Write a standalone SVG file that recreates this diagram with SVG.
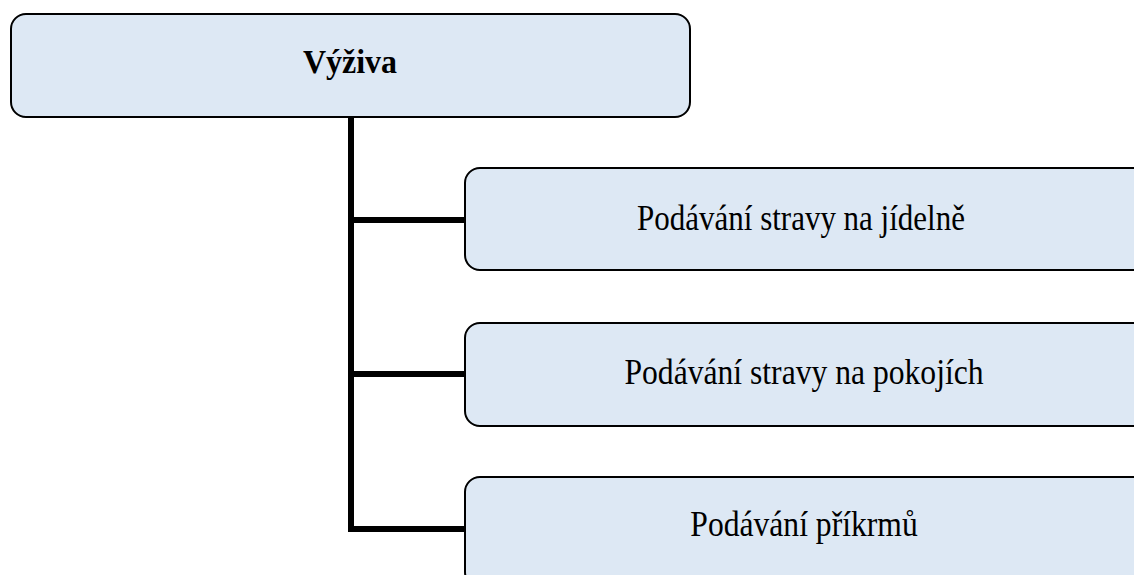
<svg xmlns="http://www.w3.org/2000/svg" width="1134" height="575" viewBox="0 0 1134 575">
<style>
.box{fill:#dde8f4;stroke:#000;stroke-width:2}
.t{font-family:"Liberation Serif","Times New Roman",serif;font-size:31px;fill:#000;text-anchor:middle}
.b{font-weight:bold;font-size:32px}
.c{fill:none;stroke:#000;stroke-width:6;stroke-linejoin:miter}
</style>
<g id="connectors">
<path class="c" d="M351,117 V529 H465"/>
<path class="c" d="M351,220 H465"/>
<path class="c" d="M351,374 H465"/>
</g>
<g id="node-vyziva">
<rect class="box" x="11" y="14" width="679" height="103" rx="15"/>
<text class="t b" transform="translate(350,73) scale(1,1.05)">Výživa</text>
</g>
<g id="node-jidelna">
<rect class="box" x="465" y="168" width="690" height="102" rx="15"/>
<text class="t" transform="translate(801,230) scale(1,1.17)">Podávání stravy na jídelně</text>
</g>
<g id="node-pokoje">
<rect class="box" x="465" y="323" width="690" height="103" rx="15"/>
<text class="t" transform="translate(804,384) scale(1.02,1.17)">Podávání stravy na pokojích</text>
</g>
<g id="node-prikrmy">
<rect class="box" x="465" y="477" width="690" height="110" rx="15"/>
<text class="t" transform="translate(804,536) scale(1.02,1.17)">Podávání příkrmů</text>
</g>
</svg>
